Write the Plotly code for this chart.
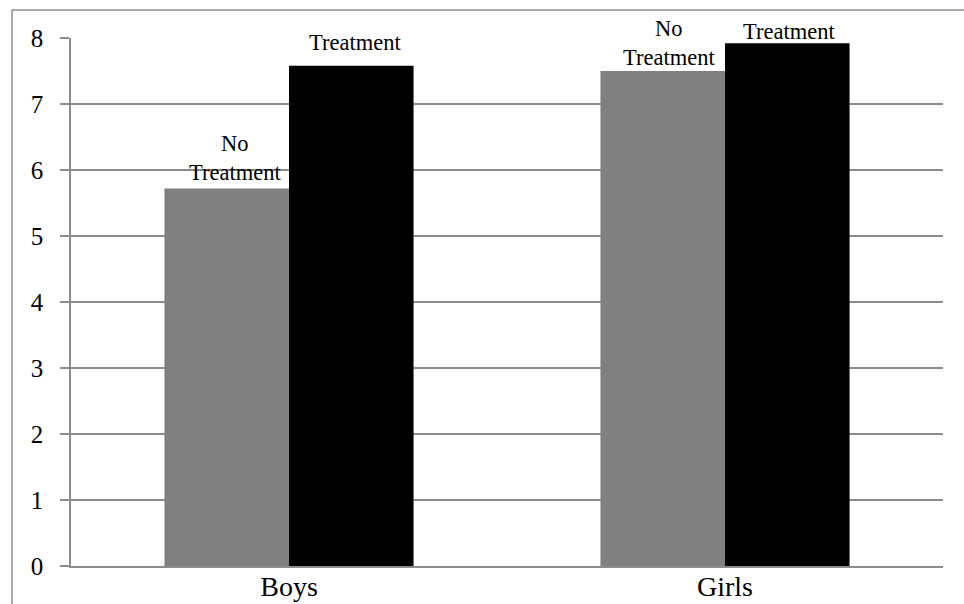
import plotly.graph_objects as go

# Mean scores by group and condition
groups = ["Boys", "Girls"]
no_treatment = [5.72, 7.50]
treatment = [7.58, 7.92]
series_names = ["No Treatment", "Treatment"]
series_labels = ["No<br>Treatment", "Treatment"]
y_ticks = [0, 1, 2, 3, 4, 5, 6, 7, 8]

FONT = "Liberation Serif"
GRID = "#8c8c8c"
LABEL_SIZE = 22.5
BAR_COLORS = ["#808080", "#000000"]

# Label nudges (px) per series and group: (dx, dy above bar top)
LABEL_NUDGE = [
    [(8, 1), (6, -1)],
    [(4, 9), (2, -3)],
]

W, H = 964, 604
ml, mr, mt, mb = 71, 21, 38, 37.5
pw, ph = W - ml - mr, H - mt - mb
BARGAP = 0.4286
bar_px = pw / len(groups) * (1 - BARGAP) / 2

fig = go.Figure()
annotations = []
for i, (vals, name) in enumerate(zip([no_treatment, treatment], series_names)):
    fig.add_trace(go.Bar(
        x=groups, y=vals, name=name,
        marker=dict(color=BAR_COLORS[i], line=dict(width=0)),
    ))
    offset = (i - 0.5) * bar_px
    for j, g in enumerate(groups):
        dx, dy = LABEL_NUDGE[i][j]
        annotations.append(dict(
            x=g, y=vals[j], xref="x", yref="y",
            text=series_labels[i], showarrow=False,
            xanchor="center", yanchor="bottom",
            xshift=offset + dx, yshift=dy,
            font=dict(family=FONT, size=LABEL_SIZE, color="#000000"),
        ))


# Outer frame: top and left edges only
def px_to_paper(px, py):
    return (px - ml) / pw, (H - mb - py) / ph


x0, y0 = px_to_paper(12, 10)
x1, _ = px_to_paper(W + 5, 10)
_, y1 = px_to_paper(12, H + 5)
frame = dict(type="line", xref="paper", yref="paper",
             line=dict(color=GRID, width=1.5), layer="above")

fig.update_layout(
    width=W, height=H,
    margin=dict(l=ml, r=mr, t=mt, b=mb, pad=0, autoexpand=False),
    paper_bgcolor="white", plot_bgcolor="white",
    barmode="group", bargap=BARGAP, bargroupgap=0,
    showlegend=False,
    font=dict(family=FONT, color="#000000"),
    annotations=annotations,
    shapes=[
        dict(frame, x0=x0, y0=y0, x1=x1, y1=y0),
        dict(frame, x0=x0, y0=y0, x1=x0, y1=y1),
    ],
    xaxis=dict(
        showgrid=False, showline=True, linecolor=GRID, linewidth=1.5,
        ticks="", tickfont=dict(family=FONT, size=28),
        ticklabelstandoff=-5, automargin=False,
    ),
    yaxis=dict(
        range=[0, 8], tickvals=y_ticks, showgrid=True, gridcolor=GRID,
        gridwidth=1.5, showline=True, linecolor=GRID, linewidth=1.5,
        ticks="outside", ticklen=9, tickcolor=GRID, tickwidth=1.5,
        tickfont=dict(family=FONT, size=25), ticklabelstandoff=12,
        zeroline=False, automargin=False,
    ),
)

fig.write_html("out.html")
